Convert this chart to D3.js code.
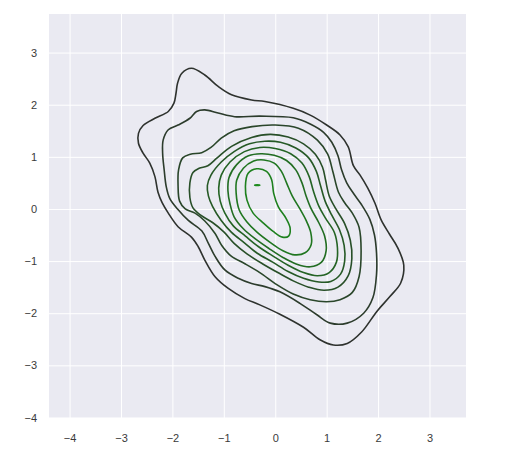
<!DOCTYPE html>
<html>
<head>
<meta charset="utf-8">
<script src="https://cdn.jsdelivr.net/npm/d3@7"></script>
<style>
  html, body { margin: 0; padding: 0; background: #ffffff; }
  svg { display: block; }
</style>
</head>
<body>
<svg id="chart" width="506" height="456"></svg>
<script>
// ---- Data (data units) ----
const xTicks = [-4, -3, -2, -1, 0, 1, 2, 3];
const yTicks = [-4, -3, -2, -1, 0, 1, 2, 3];
const xDomain = [-4.40, 3.71];
const yDomain = [-4.01, 3.74];

// Contour levels, outermost (lowest density) first
const contour0 = [[-1.63,2.70],[-1.37,2.57],[-1.11,2.35],[-0.85,2.19],[-0.46,2.09],[-0.20,2.06],[0.35,1.93],[0.68,1.80],[1.00,1.61],[1.26,1.42],[1.42,1.19],[1.52,0.83],[1.65,0.65],[1.80,0.40],[1.94,0.11],[2.06,-0.21],[2.22,-0.48],[2.38,-0.74],[2.50,-1.08],[2.44,-1.42],[2.23,-1.68],[1.98,-1.96],[1.68,-2.36],[1.40,-2.58],[1.13,-2.61],[0.87,-2.51],[0.55,-2.27],[0.09,-2.02],[-0.30,-1.84],[-0.59,-1.72],[-0.92,-1.52],[-1.17,-1.30],[-1.37,-0.98],[-1.50,-0.72],[-1.63,-0.54],[-1.89,-0.34],[-2.08,-0.08],[-2.20,0.12],[-2.28,0.32],[-2.34,0.62],[-2.44,0.88],[-2.57,1.07],[-2.66,1.26],[-2.66,1.45],[-2.57,1.60],[-2.34,1.74],[-2.08,1.87],[-1.97,2.03],[-1.93,2.22],[-1.90,2.41],[-1.82,2.60]];
const contour1 = [[-1.37,1.90],[-1.11,1.84],[-0.79,1.77],[-0.30,1.78],[0.35,1.75],[0.68,1.63],[0.94,1.47],[1.10,1.28],[1.22,1.02],[1.29,0.75],[1.39,0.50],[1.52,0.30],[1.68,0.08],[1.84,-0.20],[1.93,-0.50],[1.97,-0.85],[1.97,-1.25],[1.90,-1.70],[1.72,-2.00],[1.40,-2.19],[1.07,-2.19],[0.81,-2.03],[0.48,-1.81],[0.09,-1.59],[-0.20,-1.49],[-0.46,-1.43],[-0.72,-1.33],[-0.98,-1.17],[-1.17,-0.91],[-1.30,-0.66],[-1.43,-0.42],[-1.69,-0.22],[-1.90,0.00],[-2.05,0.20],[-2.12,0.43],[-2.16,0.75],[-2.19,1.07],[-2.18,1.32],[-2.08,1.52],[-1.89,1.61],[-1.66,1.74],[-1.53,1.87]];
const contour2 = [[-1.80,0.98],[-1.65,1.05],[-1.43,1.08],[-1.25,1.18],[-1.05,1.36],[-0.80,1.50],[-0.45,1.58],[0.00,1.61],[0.45,1.55],[0.82,1.32],[1.02,1.05],[1.12,0.72],[1.23,0.32],[1.35,0.12],[1.50,-0.08],[1.63,-0.35],[1.67,-0.80],[1.63,-1.30],[1.50,-1.60],[1.26,-1.74],[1.00,-1.78],[0.68,-1.74],[0.35,-1.63],[0.03,-1.45],[-0.30,-1.22],[-0.59,-1.05],[-0.85,-0.91],[-1.04,-0.70],[-1.17,-0.47],[-1.37,-0.23],[-1.56,-0.08],[-1.75,0.00],[-1.86,0.15],[-1.89,0.45],[-1.88,0.75]];
const contour3 = [[-1.66,0.50],[-1.60,0.70],[-1.48,0.78],[-1.31,0.83],[-1.13,0.98],[-0.85,1.20],[-0.46,1.37],[-0.10,1.43],[0.25,1.38],[0.55,1.25],[0.78,1.05],[0.92,0.80],[0.98,0.55],[1.05,0.25],[1.18,0.00],[1.35,-0.28],[1.46,-0.60],[1.49,-0.95],[1.42,-1.28],[1.22,-1.50],[0.95,-1.56],[0.65,-1.50],[0.35,-1.38],[0.05,-1.22],[-0.25,-1.05],[-0.55,-0.86],[-0.80,-0.66],[-1.00,-0.44],[-1.22,-0.26],[-1.45,-0.12],[-1.60,0.02],[-1.66,0.22]];
const contour4 = [[-1.32,0.45],[-1.25,0.65],[-1.05,0.90],[-0.80,1.10],[-0.50,1.25],[-0.20,1.30],[0.10,1.28],[0.40,1.17],[0.65,0.98],[0.80,0.72],[0.88,0.45],[0.97,0.15],[1.10,-0.12],[1.25,-0.40],[1.34,-0.70],[1.35,-1.00],[1.27,-1.25],[1.08,-1.39],[0.85,-1.40],[0.55,-1.33],[0.25,-1.20],[-0.05,-1.02],[-0.35,-0.85],[-0.60,-0.65],[-0.85,-0.45],[-1.05,-0.22],[-1.22,0.05],[-1.30,0.25]];
const contour5 = [[-1.10,0.40],[-1.05,0.65],[-0.88,0.90],[-0.60,1.10],[-0.30,1.18],[0.00,1.16],[0.30,1.06],[0.52,0.88],[0.66,0.62],[0.74,0.35],[0.85,0.05],[0.98,-0.18],[1.15,-0.45],[1.21,-0.75],[1.19,-1.02],[1.05,-1.22],[0.82,-1.28],[0.55,-1.22],[0.25,-1.08],[-0.05,-0.90],[-0.33,-0.72],[-0.58,-0.52],[-0.82,-0.32],[-0.98,-0.08],[-1.07,0.15]];
const contour6 = [[-0.92,0.35],[-0.90,0.60],[-0.75,0.85],[-0.52,1.02],[-0.28,1.06],[-0.02,1.03],[0.22,0.93],[0.40,0.75],[0.52,0.50],[0.60,0.25],[0.70,0.00],[0.84,-0.25],[0.96,-0.52],[0.99,-0.80],[0.90,-1.02],[0.68,-1.11],[0.42,-1.06],[0.15,-0.93],[-0.12,-0.76],[-0.38,-0.58],[-0.62,-0.38],[-0.80,-0.15],[-0.88,0.10]];
const contour7 = [[-0.76,0.30],[-0.75,0.55],[-0.62,0.78],[-0.42,0.92],[-0.22,0.94],[-0.02,0.88],[0.12,0.72],[0.22,0.50],[0.33,0.25],[0.48,0.00],[0.60,-0.22],[0.69,-0.45],[0.70,-0.68],[0.58,-0.84],[0.38,-0.88],[0.15,-0.80],[-0.10,-0.64],[-0.35,-0.45],[-0.55,-0.25],[-0.70,-0.02]];
const contour8 = [[-0.36,0.77],[-0.53,0.68],[-0.58,0.43],[-0.55,0.17],[-0.43,-0.08],[-0.23,-0.27],[-0.04,-0.43],[0.14,-0.54],[0.26,-0.52],[0.29,-0.37],[0.21,-0.18],[0.06,0.04],[-0.03,0.30],[-0.07,0.56],[-0.17,0.72]];
const contour9 = [[-0.40,0.456],[-0.35,0.462],[-0.30,0.456],[-0.35,0.450]];
const contours = [contour0, contour1, contour2, contour3, contour4, contour5, contour6, contour7, contour8, contour9];

// ---- Layout ----
const margin = {left: 49, top: 14};
const pw = 417, ph = 404;

const svg = d3.select("#chart");
const x = d3.scaleLinear().domain(xDomain).range([margin.left, margin.left + pw]);
const y = d3.scaleLinear().domain(yDomain).range([margin.top + ph, margin.top]);

svg.append("rect")
  .attr("x", margin.left).attr("y", margin.top)
  .attr("width", pw).attr("height", ph)
  .attr("fill", "#EAEAF2");

const fmt = d => (d < 0 ? "\u2212" + Math.abs(d) : String(d));
const labelColor = "#3a3a3a";

const gx = svg.append("g")
  .attr("transform", `translate(0,${margin.top + ph})`)
  .call(d3.axisBottom(x).tickValues(xTicks).tickSize(0).tickPadding(0).tickFormat(fmt));
gx.select(".domain").remove();
gx.selectAll(".tick line")
  .attr("y2", -ph)
  .attr("stroke", "#ffffff").attr("stroke-width", 1);
gx.selectAll(".tick text")
  .attr("y", 16).attr("dy", "0.71em")
  .attr("fill", labelColor)
  .style("font-family", "'Liberation Sans', Arial, sans-serif")
  .style("font-size", "11px");

const gy = svg.append("g")
  .attr("transform", `translate(${margin.left},0)`)
  .call(d3.axisLeft(y).tickValues(yTicks).tickSize(0).tickPadding(12).tickFormat(fmt));
gy.select(".domain").remove();
gy.selectAll(".tick line")
  .attr("x2", pw)
  .attr("stroke", "#ffffff").attr("stroke-width", 1);
gy.selectAll(".tick text")
  .attr("fill", labelColor)
  .style("font-family", "'Liberation Sans', Arial, sans-serif")
  .style("font-size", "11px");

const color = d3.scaleLinear()
  .domain([0, contours.length - 1])
  .range(["#2e322e", "#1c8a1c"])
  .interpolate(d3.interpolateRgb);

const line = d3.line()
  .x(d => x(d[0]))
  .y(d => y(d[1]))
  .curve(d3.curveCatmullRomClosed.alpha(0.5));

svg.append("clipPath").attr("id", "plotclip")
  .append("rect").attr("x", margin.left).attr("y", margin.top).attr("width", pw).attr("height", ph);

svg.append("g").attr("clip-path", "url(#plotclip)")
  .selectAll("path")
  .data(contours)
  .join("path")
  .attr("d", d => line(d))
  .attr("fill", "none")
  .attr("stroke", (d, i) => color(i))
  .attr("stroke-width", 1.6)
  .attr("stroke-linejoin", "round");
</script>
</body>
</html>
